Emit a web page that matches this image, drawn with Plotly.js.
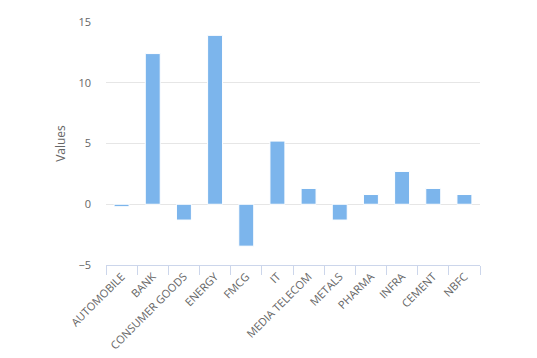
<!DOCTYPE html>
<html><head><meta charset="utf-8">
<script src="https://cdn.plot.ly/plotly-3.0.1.min.js"></script>
<style>html,body{margin:0;padding:0;background:#fff}#c{width:537px;height:358px}</style>
</head><body><div id="c"></div>
<script>
const categories = ["AUTOMOBILE","BANK","CONSUMER GOODS","ENERGY","FMCG","IT","MEDIA TELECOM","METALS","PHARMA","INFRA","CEMENT","NBFC"];
const values = [-0.2, 12.4, -1.3, 13.9, -3.45, 5.2, 1.3, -1.3, 0.8, 2.7, 1.3, 0.8];
const yTicks = [-5, 0, 5, 10, 15];

const font = "'Open Sans', 'DejaVu Sans', sans-serif";
Plotly.newPlot('c', [{
  type: 'bar', x: categories, y: values,
  marker: {color: '#7cb5ec', line: {color: '#ffffff', width: 1}},
  hoverinfo: 'none'
}], {
  width: 537, height: 358,
  margin: {l: 106, r: 57, t: 22, b: 93},
  paper_bgcolor: '#ffffff', plot_bgcolor: '#ffffff',
  bargap: 0.52,
  showlegend: false,
  font: {family: font, color: '#666666', size: 11},
  xaxis: {
    type: 'category', tickangle: -45, tickson: 'boundaries',
    ticks: 'outside', ticklen: 9, tickcolor: '#ccd6eb', tickwidth: 1,
    showline: true, linecolor: '#ccd6eb', linewidth: 1,
    showgrid: false, tickfont: {size: 11, color: '#666666', family: font}
  },
  yaxis: {
    range: [-5, 15], tickvals: yTicks, showgrid: true, gridcolor: '#e6e6e6',
    zeroline: false, showline: false, ticks: '', ticklabelstandoff: 14,
    tickfont: {size: 11, color: '#666666', family: font},
    title: {text: 'Values', font: {size: 12, color: '#666666', family: font}, standoff: 10}
  }
}, {displayModeBar: false, staticPlot: true});
</script></body></html>
